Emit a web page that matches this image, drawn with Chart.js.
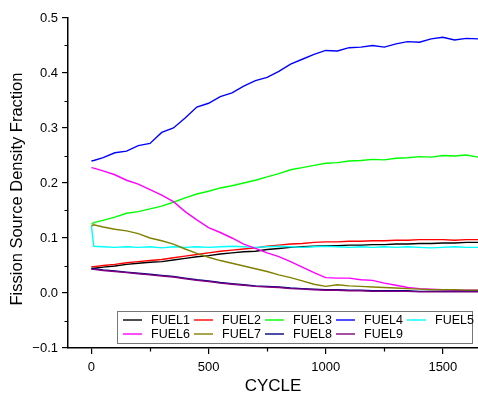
<!DOCTYPE html>
<html>
<head>
<meta charset="utf-8">
<script src="https://cdn.jsdelivr.net/npm/chart.js@4.4.1/dist/chart.umd.min.js"></script>
<style>
  html, body { margin: 0; padding: 0; background: #fff; }
  #wrap { width: 478px; height: 397px; position: relative; }
</style>
</head>
<body>
<div id="wrap"><canvas id="grafica"></canvas></div>
<script>
const cycles = [0, 10, 50, 100, 150, 200, 250, 300, 350, 400, 450, 500, 550, 600, 650, 700, 750, 800,
                850, 900, 950, 1000, 1050, 1100, 1150, 1200, 1250, 1300, 1350, 1400, 1450, 1500, 1550, 1600, 1650];

const fuelNames = ['FUEL1', 'FUEL2', 'FUEL3', 'FUEL4', 'FUEL5', 'FUEL6', 'FUEL7', 'FUEL8', 'FUEL9'];
const fuelColors = ['#000000', '#ff0000', '#00ff00', '#0000ff', '#00ffff', '#ff00ff', '#808000', '#000080', '#800080'];

const fuel1 = [0.045, 0.045, 0.047, 0.049, 0.052, 0.054, 0.056, 0.057, 0.060, 0.063, 0.066, 0.068, 0.071, 0.073, 0.075, 0.076, 0.079, 0.081,
               0.083, 0.084, 0.085, 0.086, 0.086, 0.087, 0.087, 0.088, 0.088, 0.089, 0.089, 0.090, 0.090, 0.091, 0.091, 0.092, 0.092];
const fuel2 = [0.048, 0.048, 0.050, 0.052, 0.055, 0.057, 0.059, 0.061, 0.064, 0.067, 0.070, 0.073, 0.076, 0.078, 0.080, 0.082, 0.085, 0.087,
               0.089, 0.090, 0.092, 0.093, 0.093, 0.094, 0.094, 0.095, 0.095, 0.096, 0.096, 0.097, 0.097, 0.097, 0.096, 0.097, 0.097];
const fuel3 = [0.125, 0.128, 0.132, 0.138, 0.145, 0.148, 0.153, 0.158, 0.165, 0.173, 0.180, 0.185, 0.191, 0.195, 0.200, 0.205, 0.211, 0.217,
               0.224, 0.228, 0.232, 0.236, 0.237, 0.240, 0.241, 0.243, 0.242, 0.245, 0.246, 0.248, 0.247, 0.250, 0.249, 0.251, 0.247];
const fuel4 = [0.240, 0.241, 0.246, 0.255, 0.258, 0.268, 0.272, 0.292, 0.300, 0.318, 0.338, 0.345, 0.357, 0.364, 0.376, 0.386, 0.392, 0.403,
               0.416, 0.425, 0.434, 0.441, 0.440, 0.446, 0.447, 0.450, 0.447, 0.453, 0.457, 0.456, 0.462, 0.465, 0.460, 0.463, 0.462];
const fuel5 = [0.122, 0.085, 0.084, 0.083, 0.084, 0.083, 0.084, 0.082, 0.084, 0.083, 0.084, 0.083, 0.084, 0.085, 0.084, 0.083, 0.084, 0.085,
               0.084, 0.083, 0.084, 0.085, 0.084, 0.083, 0.084, 0.083, 0.084, 0.083, 0.084, 0.083, 0.082, 0.083, 0.084, 0.083, 0.083];
const fuel6 = [0.228, 0.227, 0.222, 0.215, 0.205, 0.198, 0.188, 0.178, 0.166, 0.148, 0.133, 0.119, 0.110, 0.100, 0.089, 0.081, 0.073, 0.066,
               0.057, 0.047, 0.037, 0.028, 0.027, 0.027, 0.024, 0.023, 0.018, 0.014, 0.010, 0.008, 0.007, 0.006, 0.005, 0.005, 0.005];
const fuel7 = [0.122, 0.124, 0.120, 0.116, 0.113, 0.108, 0.100, 0.095, 0.089, 0.080, 0.072, 0.065, 0.059, 0.054, 0.049, 0.044, 0.039, 0.033,
               0.028, 0.022, 0.016, 0.012, 0.015, 0.013, 0.012, 0.011, 0.010, 0.009, 0.008, 0.007, 0.006, 0.006, 0.006, 0.005, 0.005];
const fuel8 = [0.044, 0.044, 0.042, 0.040, 0.038, 0.036, 0.034, 0.032, 0.030, 0.027, 0.024, 0.022, 0.019, 0.017, 0.015, 0.013, 0.012, 0.011,
               0.009, 0.008, 0.007, 0.006, 0.006, 0.005, 0.005, 0.004, 0.004, 0.004, 0.004, 0.003, 0.003, 0.003, 0.003, 0.003, 0.003];
const fuel9 = [0.043, 0.043, 0.041, 0.039, 0.037, 0.035, 0.033, 0.031, 0.029, 0.026, 0.023, 0.021, 0.018, 0.016, 0.014, 0.012, 0.011, 0.010,
               0.008, 0.007, 0.006, 0.005, 0.005, 0.004, 0.004, 0.003, 0.003, 0.003, 0.003, 0.002, 0.002, 0.002, 0.002, 0.002, 0.002];

const fuelValues = [fuel1, fuel2, fuel3, fuel4, fuel5, fuel6, fuel7, fuel8, fuel9];

const xMajor = [0, 500, 1000, 1500];
const xMinor = [250, 750, 1250];
const yMajor = [-0.1, 0, 0.1, 0.2, 0.3, 0.4, 0.5];
const yMinor = [-0.05, 0.05, 0.15, 0.25, 0.35, 0.45];

const fuente = 'Arial, "Liberation Sans", sans-serif';
const tituloY = 'Fission Source Density Fraction';

const datasets = [];
for (var i in fuelNames) {
    datasets.push({
        label: fuelNames[i],
        data: cycles.map((c, k) => ({ x: c, y: fuelValues[i][k] })),
        borderColor: fuelColors[i],
        backgroundColor: fuelColors[i],
        borderWidth: 1.4,
        pointRadius: 0,
        tension: 0,
        order: 9 - i
    });
}

// minor ticks, y title and legend box inside the plot
const extras = {
    id: 'extras',
    afterDraw(chart) {
        const ctx = chart.ctx;
        const xs = chart.scales.x, ys = chart.scales.y;
        ctx.save();
        ctx.strokeStyle = '#000';
        ctx.lineWidth = 1.2;
        ctx.beginPath();
        xMinor.forEach(v => {
            const px = Math.round(xs.getPixelForValue(v)) + 0.5;
            ctx.moveTo(px, xs.top);
            ctx.lineTo(px, xs.top + 3.5);
        });
        yMinor.forEach(v => {
            const py = Math.round(ys.getPixelForValue(v)) + 0.5;
            ctx.moveTo(ys.right, py);
            ctx.lineTo(ys.right - 3.5, py);
        });
        ctx.stroke();

        // y axis title
        ctx.save();
        ctx.translate(17, 189);
        ctx.rotate(-Math.PI / 2);
        ctx.fillStyle = '#000';
        ctx.font = '16.5px ' + fuente;
        ctx.textAlign = 'center';
        ctx.textBaseline = 'middle';
        ctx.fillText(tituloY, 0, 0);
        ctx.restore();

        // legend
        const bx = 117, by = 311, bw = 355, bh = 32;
        ctx.fillStyle = '#fff';
        ctx.fillRect(bx, by, bw, bh);
        ctx.strokeStyle = '#777';
        ctx.lineWidth = 1;
        ctx.strokeRect(bx + 0.5, by + 0.5, bw, bh);
        ctx.font = '12.5px ' + fuente;
        ctx.textBaseline = 'middle';
        ctx.textAlign = 'left';
        fuelNames.forEach((name, idx) => {
            const row = idx < 5 ? 0 : 1;
            const col = idx % 5;
            const lx = 123 + col * 71;
            const ly = row === 0 ? 320 : 334;
            ctx.strokeStyle = fuelColors[idx];
            ctx.lineWidth = 1.4;
            ctx.beginPath();
            ctx.moveTo(lx, ly);
            ctx.lineTo(lx + 19, ly);
            ctx.stroke();
            ctx.fillStyle = '#000';
            ctx.fillText(name, lx + 28, ly + 0.5);
        });
        ctx.restore();
    }
};

new Chart(document.getElementById('grafica'), {
    type: 'line',
    data: { datasets: datasets },
    options: {
        responsive: true,
        maintainAspectRatio: false,
        animation: false,
        layout: { padding: { top: 18, right: 0, left: 0, bottom: 0 } },
        plugins: { legend: { display: false }, tooltip: { enabled: false } },
        scales: {
            x: {
                type: 'linear',
                min: -100,
                max: 1650,
                afterBuildTicks: s => { s.ticks = xMajor.map(v => ({ value: v })); },
                afterFit: s => { s.height = 49; },
                border: { display: true, color: '#000', width: 1.5 },
                grid: { drawOnChartArea: false, drawTicks: true, tickLength: 6, color: '#000', lineWidth: 1.2 },
                ticks: { color: '#000', font: { family: fuente, size: 13 }, padding: 6, maxRotation: 0, callback: v => String(v) },
                title: { display: true, text: 'CYCLE', color: '#000', font: { family: fuente, size: 17 }, padding: { top: 0, bottom: 0 } }
            },
            y: {
                min: -0.1,
                max: 0.5,
                afterBuildTicks: s => { s.ticks = yMajor.map(v => ({ value: v })); },
                afterFit: s => { s.width = 68; },
                border: { display: true, color: '#000', width: 1.5 },
                grid: { drawOnChartArea: false, drawTicks: true, tickLength: 6, color: '#000', lineWidth: 1.2 },
                ticks: {
                    color: '#000',
                    font: { family: fuente, size: 13 },
                    padding: 4,
                    callback: v => (v < 0 ? '\u2212' : '') + Math.abs(v).toFixed(1)
                },
                title: { display: false }
            }
        }
    },
    plugins: [extras]
});
</script>
</body>
</html>
